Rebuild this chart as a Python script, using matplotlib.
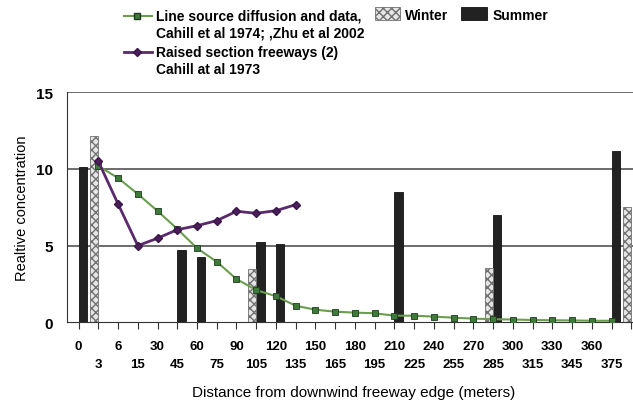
import numpy as np
import matplotlib
matplotlib.use("Agg")
import matplotlib.pyplot as plt
import matplotlib.patches as mpatches
from matplotlib.lines import Line2D

plt.rcParams['font.family'] = ['Liberation Sans', 'DejaVu Sans']

# categories along the x axis (the last one is cut off at the right edge)
dist_labels = ['0', '3', '6', '15', '30', '45', '60', '75', '90', '105', '120',
               '135', '150', '165', '180', '195', '210', '225', '240', '255',
               '270', '285', '300', '315', '330', '345', '360', '375', '']

# bar data (nan = no bar)
nan = np.nan
summer = [10.15, nan, nan, nan, nan, 4.72, 4.28, nan, nan, 5.26, 5.1, nan, nan,
          nan, nan, nan, 8.52, nan, nan, nan, nan, 7.02, nan, nan, nan, nan,
          nan, 11.2, nan]
winter = [nan, 12.17, nan, nan, nan, nan, nan, nan, nan, 3.48, nan, nan, nan,
          nan, nan, nan, nan, nan, nan, nan, nan, 3.54, nan, nan, nan, nan,
          nan, nan, 7.55]

# line source diffusion, categories 3 .. 375
line_source = [10.2, 9.41, 8.37, 7.26, 6.09, 4.83, 3.95, 2.82, 2.1, 1.7, 1.08,
               0.82, 0.69, 0.63, 0.59, 0.43, 0.43, 0.37, 0.3, 0.24, 0.2, 0.18,
               0.15, 0.13, 0.12, 0.1, 0.1]
# raised section freeways, categories 3 .. 135
raised = [10.5, 7.72, 5.0, 5.48, 6.04, 6.3, 6.63, 7.24, 7.11, 7.28, 7.67]

green = '#6a9e4e'
purple = '#5a2a6c'
winter_face = '#e6e6e6'
winter_edge = '#707070'
summer_col = '#222222'

fig = plt.figure(figsize=(6.33, 4.02), dpi=100)
ax = fig.add_axes([0.1054, 0.1958, 0.9059, 0.5721])

x = np.arange(len(dist_labels))
summer = np.array(summer)
winter = np.array(winter)
w = 0.42
ms = ~np.isnan(summer)
mw = ~np.isnan(winter)
ax.bar(x[ms] + w / 2, summer[ms], width=w, color=summer_col,
       edgecolor='#111111', linewidth=0.6, zorder=2)
ax.bar(x[mw] - w / 2, winter[mw], width=w, color=winter_face,
       edgecolor=winter_edge, hatch='xxxx', linewidth=0.6, zorder=2)

xl = x[1:1 + len(line_source)]
ax.plot(xl, line_source, color=green, lw=1.5, marker='s', ms=4.5,
        mfc='#3e7a3a', mec='#1e3a1e', mew=0.6, zorder=3)
xr = x[1:1 + len(raised)]
ax.plot(xr, raised, color=purple, lw=2.0, marker='D', ms=4,
        mfc='#4a1f5a', mec='#3a1548', zorder=4)

for yv in [5, 10, 15]:
    ax.axhline(yv, color='#444444', lw=1.1, zorder=1)

ax.set_xlim(-0.6, 28.45)
ax.set_ylim(0, 15)
ax.set_yticks([0, 5, 10, 15])
ax.set_yticklabels(['0', '5', '10', '15'], fontsize=11, fontweight='bold')
ax.tick_params(axis='y', length=0, pad=10)

ax.set_xticks(x)
ax.set_xticklabels(dist_labels, fontsize=9.5, fontweight='bold',
                   family=['Liberation Sans Narrow', 'Liberation Sans'])
ax.tick_params(axis='x', direction='out', length=5, width=0.8, color='#333333')
for i, t in enumerate(ax.xaxis.get_major_ticks()):
    t.set_pad(7.5 if i % 2 == 0 else 20.5)

for s in ['top', 'right']:
    ax.spines[s].set_visible(False)
ax.spines['left'].set_color('#333333')
ax.spines['bottom'].set_color('#333333')

ax.set_ylabel('Realtive concentration', fontsize=10.5, labelpad=5)
ax.set_xlabel('Distance from downwind freeway edge (meters)', fontsize=11,
              labelpad=11)

# legend drawn by hand (layout of the original)
H = 402.0
Wd = 633.0


def fx(px):
    return px / Wd


def fy(py):
    return 1 - py / H


fig.add_artist(Line2D([fx(124), fx(152)], [fy(16.5), fy(16.5)], color=green,
                      lw=1.5, transform=fig.transFigure))
fig.add_artist(Line2D([fx(137)], [fy(16.5)], marker='s', ms=4.5, mfc='#3e7a3a',
                      mec='#1e3a1e', transform=fig.transFigure))
fig.text(fx(156), fy(16.5), 'Line source diffusion and data,', fontsize=10,
         fontweight='bold', va='center', ha='left')
fig.text(fx(156), fy(33.5), 'Cahill et al 1974; ,Zhu et al 2002', fontsize=10,
         fontweight='bold', va='center', ha='left')

fig.add_artist(Line2D([fx(124), fx(152)], [fy(52.5), fy(52.5)], color=purple,
                      lw=2, transform=fig.transFigure))
fig.add_artist(Line2D([fx(137)], [fy(52.5)], marker='D', ms=4, mfc='#4a1f5a',
                      mec='#3a1548', transform=fig.transFigure))
fig.text(fx(156), fy(52.5), 'Raised section freeways (2)', fontsize=10,
         fontweight='bold', va='center', ha='left')
fig.text(fx(156), fy(69.5), 'Cahill at al 1973', fontsize=10,
         fontweight='bold', va='center', ha='left')

fig.add_artist(mpatches.Rectangle((fx(375), fy(21)), fx(25), 13 / H,
                                  facecolor=winter_face, edgecolor=winter_edge,
                                  hatch='xxxx', lw=0.6, transform=fig.transFigure))
fig.text(fx(405), fy(16), 'Winter', fontsize=10, fontweight='bold',
         va='center', ha='left')
fig.add_artist(mpatches.Rectangle((fx(461), fy(21)), fx(26), 13 / H,
                                  facecolor=summer_col, edgecolor='#111111',
                                  lw=0.6, transform=fig.transFigure))
fig.text(fx(493), fy(16), 'Summer', fontsize=10, fontweight='bold',
         va='center', ha='left')

fig.savefig('out.png', dpi=100)
